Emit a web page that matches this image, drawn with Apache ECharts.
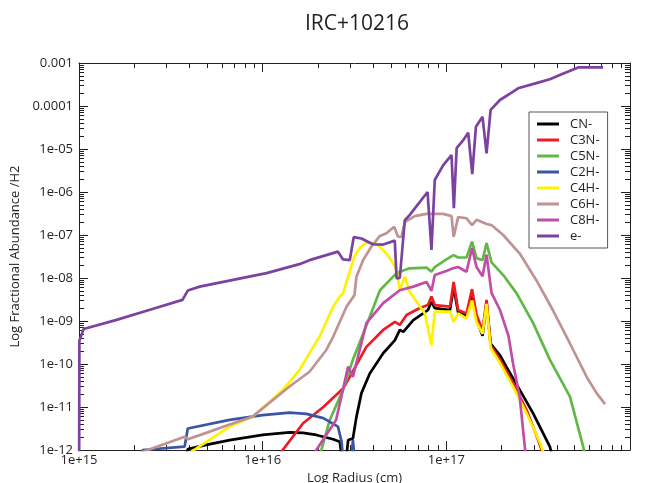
<!DOCTYPE html>
<html><head><meta charset="utf-8">
<script src="https://cdn.jsdelivr.net/npm/echarts@6/dist/echarts.min.js"></script>
<style>html,body{margin:0;padding:0;background:#fff}#c{width:653px;height:483px}</style>
</head><body><div id="c"></div>
<script>
// ---- chart values ----
const seriesNames = ['CN-','C3N-','C5N-','C2H-','C4H-','C6H-','C8H-','e-'];
const seriesColors = ['#000000','#ed1c24','#62b847','#3a55a5','#fff200','#c09393','#c04ea9','#7b439f'];

const xTickValues = [1e15, 1e16, 1e17, 1e18];
const xTickLabels = ['1e+15','1e+16','1e+17','1e+18'];
const yTickValues = [1e-12,1e-11,1e-10,1e-9,1e-8,1e-7,1e-6,1e-5,1e-4,1e-3];
const yTickLabels = ['1e-12','1e-11','1e-10','1e-09','1e-08','1e-07','1e-06','1e-05','0.0001','0.001'];

const cnData = [[3.76e15,3e-13],[3.91e15,1.05e-12],[4.93e15,1.32e-12],[6.61e15,1.7e-12],[1e16,2.24e-12],[1.40e16,2.57e-12],[1.66e16,2.5e-12],[1.96e16,2.24e-12],[2.42e16,1.78e-12],[2.63e16,1.55e-12],[2.74e16,4e-13],[2.80e16,3e-13],[2.92e16,1.7e-12],[3.10e16,1.86e-12],[3.24e16,5.9e-12],[3.45e16,2.1e-11],[3.83e16,6.0e-11],[4.53e16,1.78e-10],[5.25e16,3.6e-10],[5.58e16,6.2e-10],[5.83e16,5.6e-10],[6.61e16,1.05e-9],[7.48e16,1.5e-9],[7.94e16,1.8e-9],[8.30e16,2.8e-9],[8.65e16,2.0e-9],[1.047e17,1.8e-9],[1.096e17,6e-9],[1.159e17,1.6e-9],[1.288e17,1.3e-9],[1.38e17,4e-9],[1.46e17,1.1e-9],[1.574e17,4.5e-10],[1.656e17,2.6e-9],[1.742e17,3e-10],[1.959e17,1.6e-10],[2.12e17,8.7e-11],[2.51e17,2.5e-11],[2.97e17,7.1e-12],[3.66e17,1.2e-12],[4.0e17,3e-13]];
const c3nData = [[1.2e16,6.8e-13],[1.66e16,4.2e-12],[2.14e16,1.0e-11],[2.74e16,2.7e-11],[2.98e16,5.0e-11],[3.67e16,2.5e-10],[4.53e16,6.2e-10],[5.25e16,9.5e-10],[5.58e16,8.1e-10],[6.07e16,1.38e-9],[7.18e16,2.0e-9],[7.94e16,2.35e-9],[8.30e16,3.7e-9],[8.65e16,2.35e-9],[1.047e17,2.15e-9],[1.096e17,8.1e-9],[1.159e17,1.8e-9],[1.288e17,1.5e-9],[1.38e17,5.5e-9],[1.46e17,1.4e-9],[1.574e17,6e-10],[1.656e17,3.1e-9],[1.742e17,2.75e-10],[1.959e17,1.26e-10],[2.31e17,3.55e-11],[2.735e17,8.5e-12],[3.16e17,1.7e-12],[3.5e17,5e-13]];
const c5nData = [[2.0e16,5.2e-13],[2.32e16,5.0e-12],[2.74e16,2.5e-11],[3.10e16,1.26e-10],[3.67e16,7.9e-10],[4.35e16,5.2e-9],[5.36e16,1.3e-8],[6.31e16,1.68e-8],[7.80e16,1.74e-8],[8.30e16,1.4e-8],[8.65e16,1.8e-8],[1.0e17,2.7e-8],[1.096e17,3.4e-8],[1.159e17,3.0e-8],[1.288e17,3.0e-8],[1.38e17,7.0e-8],[1.46e17,2.9e-8],[1.574e17,2.6e-8],[1.656e17,6.5e-8],[1.762e17,2.3e-8],[2.04e17,1.17e-8],[2.415e17,4.4e-9],[2.97e17,8.9e-10],[3.66e17,1.26e-10],[4.71e17,1.74e-11],[5.56e17,1.2e-12],[6.0e17,3e-13]];
const c2hData = [[2.15e15,2e-13],[2.22e15,1.0e-12],[3.76e15,1.2e-12],[3.91e15,3.16e-12],[6.61e15,5.0e-12],[1e16,6.5e-12],[1.40e16,7.4e-12],[1.73e16,6.9e-12],[2.14e16,5.5e-12],[2.57e16,3.5e-12],[2.69e16,1.55e-12],[2.80e16,2e-13],[2.98e16,2e-13],[3.10e16,1.7e-12],[3.24e16,2e-13]];
const c4hData = [[3.91e15,8e-13],[6.61e15,3.5e-12],[8.81e15,5.96e-12],[1.29e16,2.5e-11],[1.585e16,7.2e-11],[1.84e16,2.1e-10],[2.04e16,4.3e-10],[2.42e16,2.15e-9],[2.63e16,3.7e-9],[2.74e16,4.4e-9],[2.92e16,1.07e-8],[3.16e16,3.2e-8],[3.38e16,5.0e-8],[3.67e16,6.7e-8],[4.17e16,6.2e-8],[4.62e16,4.1e-8],[5.01e16,2.6e-8],[5.36e16,1.55e-8],[5.58e16,5.2e-9],[5.94e16,1.07e-8],[6.31e16,4.8e-9],[7.64e16,1.5e-9],[8.30e16,2.75e-10],[8.65e16,1.66e-9],[1.047e17,1.66e-9],[1.096e17,9.5e-10],[1.159e17,1.5e-9],[1.288e17,1.15e-9],[1.38e17,3.0e-9],[1.46e17,9.5e-10],[1.574e17,5e-10],[1.656e17,2.5e-9],[1.742e17,2.35e-10],[1.959e17,1.05e-10],[2.31e17,2.95e-11],[2.735e17,7.1e-12],[3.24e17,1.45e-12],[3.6e17,4e-13]];
const c6hData = [[2.0e15,7.7e-13],[3.76e15,2.04e-12],[3.91e15,1.78e-12],[4.93e15,2.5e-12],[6.61e15,3.9e-12],[8.81e15,5.96e-12],[1.40e16,3.0e-11],[1.80e16,6.6e-11],[2.22e16,2.12e-10],[2.42e16,4.3e-10],[2.86e16,2.15e-9],[3.16e16,4.0e-9],[3.24e16,1.07e-8],[3.52e16,2.6e-8],[3.91e16,5.4e-8],[4.35e16,9.5e-8],[4.72e16,1.1e-7],[5.20e16,1.55e-7],[5.46e16,9.1e-8],[5.70e16,9.1e-8],[5.94e16,2.0e-7],[6.73e16,2.75e-7],[7.80e16,3.1e-7],[9.62e16,3.1e-7],[1.067e17,2.75e-7],[1.096e17,9e-8],[1.159e17,2.6e-7],[1.288e17,2.45e-7],[1.38e17,1.7e-7],[1.46e17,2.25e-7],[1.656e17,1.8e-7],[1.76e17,1.7e-7],[2.04e17,1.0e-7],[2.51e17,3.7e-8],[3.09e17,8.9e-9],[3.80e17,1.8e-9],[4.71e17,3.0e-10],[5.81e17,5.0e-11],[6.58e17,2.1e-11],[7.31e17,1.17e-11]];
const c8hData = [[1.82e16,6.2e-13],[2.51e16,5.0e-12],[2.92e16,8.7e-11],[3.10e16,5.0e-11],[3.67e16,8.9e-10],[4.53e16,2.6e-9],[5.58e16,5.2e-9],[6.61e16,6.3e-9],[7.80e16,8.1e-9],[8.30e16,5e-9],[8.65e16,1.17e-8],[1.0e17,1.45e-8],[1.096e17,1.7e-8],[1.159e17,1.8e-8],[1.288e17,1.4e-8],[1.38e17,5e-8],[1.46e17,1.8e-8],[1.574e17,1.1e-8],[1.656e17,3.5e-8],[1.762e17,4.5e-9],[1.959e17,1.8e-9],[2.18e17,4.5e-10],[2.31e17,1.0e-10],[2.51e17,1.7e-11],[2.7e17,8e-13]];
const eData = [[1e15,1e-14],[1.005e15,3.5e-10],[1.06e15,6.5e-10],[1.585e15,1.05e-9],[2.51e15,1.9e-9],[3.66e15,3.1e-9],[3.91e15,5.1e-9],[4.54e15,6.3e-9],[1.05e16,1.3e-8],[1.585e16,2.1e-8],[1.80e16,2.6e-8],[2.57e16,4.1e-8],[2.74e16,2.7e-8],[2.98e16,2.6e-8],[3.13e16,8.9e-8],[3.45e16,8.3e-8],[3.98e16,6.1e-8],[4.53e16,6.0e-8],[5.24e16,7.4e-8],[5.36e16,9.8e-9],[5.58e16,1.0e-8],[5.94e16,2.2e-7],[6.31e16,2.9e-7],[7.90e16,1.0e-6],[8.30e16,4.5e-8],[8.65e16,1.9e-6],[9.62e16,4.2e-6],[1.067e17,7.2e-6],[1.099e17,4.2e-7],[1.138e17,1.05e-5],[1.236e17,1.6e-5],[1.315e17,2.4e-5],[1.384e17,2.6e-6],[1.449e17,3.3e-5],[1.574e17,5.6e-5],[1.656e17,7.9e-6],[1.742e17,8.1e-5],[1.959e17,1.38e-4],[2.265e17,2.04e-4],[2.46e17,2.58e-4],[3.09e17,3.4e-4],[3.66e17,4.2e-4],[4.34e17,5.7e-4],[5.22e17,7.9e-4],[7.14e17,7.9e-4]];

const seriesData = [cnData, c3nData, c5nData, c2hData, c4hData, c6hData, c8hData, eData];

// ---- axis tick helpers (minor log ticks 2..9 in each decade) ----
const minorMultipliers = [2,3,4,5,6,7,8,9];
function minorTicks(decades){ const out=[]; decades.forEach(d=>minorMultipliers.forEach(m=>out.push(m*d))); return out; }
const xMinor = minorTicks(xTickValues.slice(0,-1));
const yMinor = minorTicks(yTickValues.slice(0,-1));

const FONT = '"Open Sans", "Noto Sans", sans-serif';
const AX = '#231f20';

function labelFor(values, labels){
  return function(v){
    let best=-1, bd=1e9;
    values.forEach((t,i)=>{ const d=Math.abs(Math.log10(v)-Math.log10(t)); if(d<bd){bd=d;best=i;} });
    return bd<0.01 ? labels[best] : '';
  };
}

function xAx(pos, major, main){
  return {
    type:'log', logBase:10, position:pos, min:1e15, max:1e18,
    axisLine:{show:major, lineStyle:{color:AX,width:1}},
    axisTick:{show:true, inside:true, length: major?9:5, customValues: major?xTickValues:xMinor, lineStyle:{color:AX,width:1}},
    axisLabel:{show:!!main, customValues:xTickValues, formatter:labelFor(xTickValues,xTickLabels), margin:4, fontSize:13, fontFamily:FONT, color:'#231f20'},
    splitLine:{show:false},
    name: main ? 'Log Radius (cm)' : '', nameLocation:'middle', nameGap:21,
    nameTextStyle:{fontSize:13, fontFamily:FONT, color:'#231f20'}
  };
}
function yAx(pos, major, main){
  return {
    type:'log', logBase:10, position:pos, min:1e-12, max:1e-3,
    axisLine:{show:major, lineStyle:{color:AX,width:1}},
    axisTick:{show:true, inside:true, length: major?9:5, customValues: major?yTickValues:yMinor, lineStyle:{color:AX,width:1}},
    axisLabel:{show:!!main, customValues:yTickValues, formatter:labelFor(yTickValues,yTickLabels), margin:6, fontSize:13, fontFamily:FONT, color:'#231f20'},
    splitLine:{show:false},
    name: main ? 'Log Fractional Abundance /H2' : '', nameLocation:'middle', nameGap:52, nameRotate:90,
    nameTextStyle:{fontSize:13, fontFamily:FONT, color:'#231f20'}
  };
}

const chart = echarts.init(document.getElementById('c'), null, {renderer:'canvas'});
chart.setOption({
  animation:false,
  backgroundColor:'#ffffff',
  title:{text:'IRC+10216', left:352, top:9, textAlign:'center',
    textStyle:{fontSize:21, fontWeight:'normal', fontFamily:FONT, color:'#231f20'}},
  grid:{left:79, right:23, top:63, bottom:33, containLabel:false, outerBoundsMode:'none'},
  xAxis:[xAx('bottom',true,true), xAx('bottom',false,false), xAx('top',true,false), xAx('top',false,false)],
  yAxis:[yAx('left',true,true), yAx('left',false,false), yAx('right',true,false), yAx('right',false,false)],
  legend:{
    orient:'vertical', left:529, top:112, padding:[4,8,4,8], itemWidth:22, itemHeight:3, itemGap:0,
    icon:'rect',
    backgroundColor:'#ffffff', borderColor:'#555555', borderWidth:1, borderRadius:0,
    textStyle:{fontSize:13, fontFamily:FONT, color:'#231f20', lineHeight:16, height:16, padding:[0,0,0,6]},
    data: seriesNames
  },
  series: seriesNames.map((n,i)=>({
    name:n, type:'line', xAxisIndex:0, yAxisIndex:0, data:seriesData[i],
    symbol:'none', showSymbol:false, smooth:false, clip:true,
    lineStyle:{color:seriesColors[i], width:2.7}, itemStyle:{color:seriesColors[i]},
    z: 2+i
  }))
});
</script></body></html>
